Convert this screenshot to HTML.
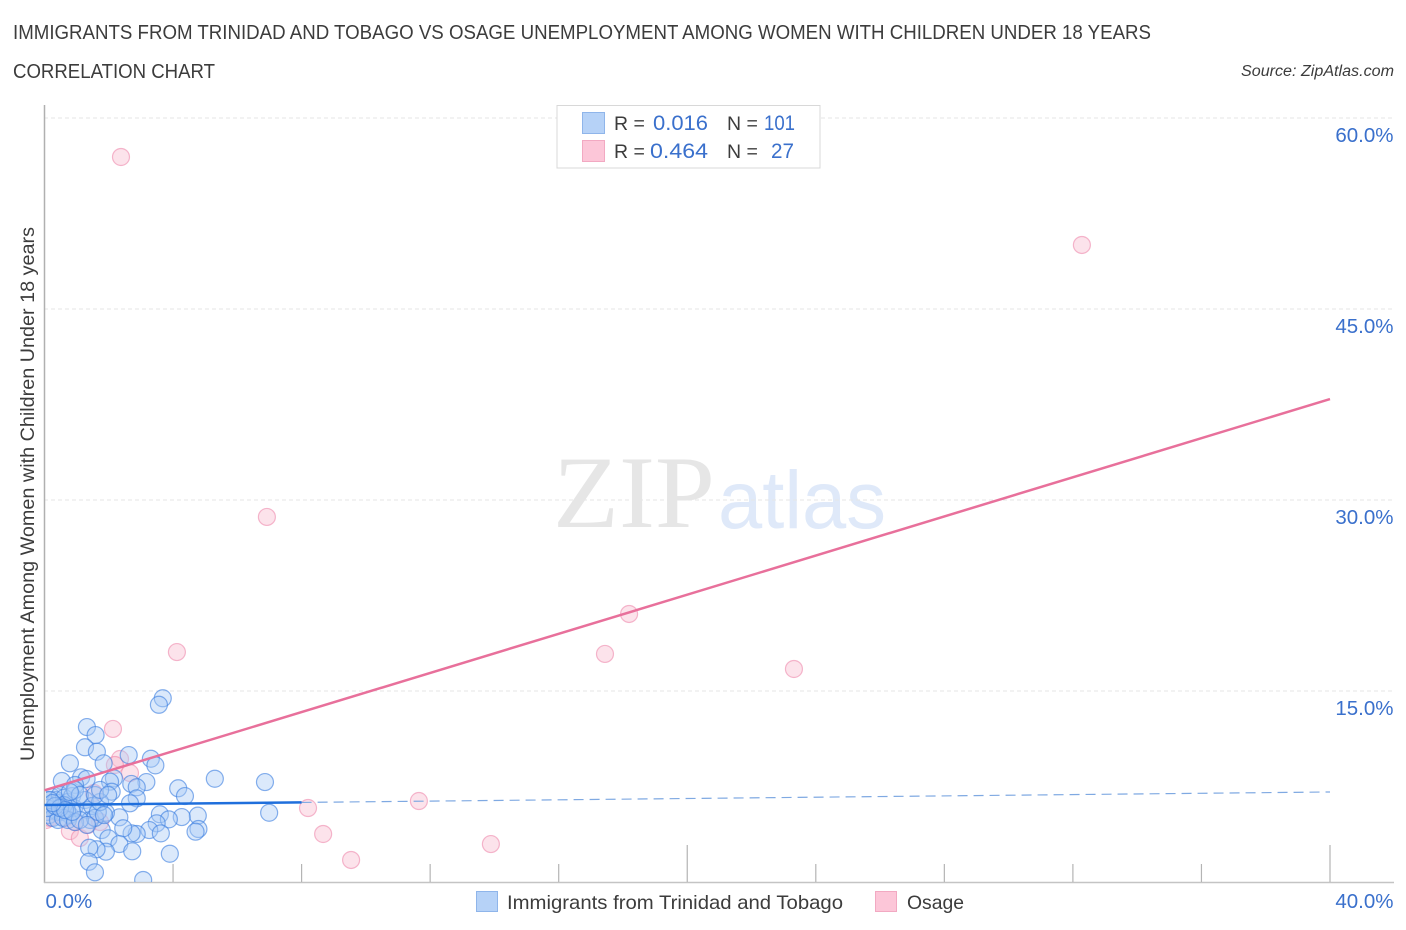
<!DOCTYPE html>
<html lang="en">
<head>
<meta charset="utf-8">
<title>Immigrants from Trinidad and Tobago vs Osage Correlation Chart</title>
<style>
html,body{margin:0;padding:0;background:#fff;width:1406px;height:930px;overflow:hidden}
svg{display:block;font-family:"Liberation Sans",sans-serif}
</style>
</head>
<body>
<svg id="chart" width="1406" height="930" viewBox="0 0 1406 930">
  <defs>
    <clipPath id="plot-clip"><rect x="46" y="100" width="1348" height="782"/></clipPath>
  </defs>
  <text x="13" y="39" font-size="20" fill="#3c3c3c" textLength="1138" lengthAdjust="spacingAndGlyphs">IMMIGRANTS FROM TRINIDAD AND TOBAGO VS OSAGE UNEMPLOYMENT AMONG WOMEN WITH CHILDREN UNDER 18 YEARS</text>
  <text x="13" y="78" font-size="20" fill="#3c3c3c" textLength="202" lengthAdjust="spacingAndGlyphs">CORRELATION CHART</text>
  <text x="1241" y="76" font-size="15.5" font-style="italic" fill="#3c3c3c" textLength="153" lengthAdjust="spacingAndGlyphs">Source: ZipAtlas.com</text>

  <text x="553" y="527" font-family="'Liberation Serif',serif" font-size="103" fill="#e6e6e6" textLength="162" lengthAdjust="spacingAndGlyphs">ZIP</text>
  <text x="718" y="528" font-size="82" fill="#dfe9f9" textLength="168" lengthAdjust="spacingAndGlyphs">atlas</text>

  <g id="grid"></g>
  <g id="axes"></g>
  <g id="points" clip-path="url(#plot-clip)"></g>
  <g id="trends"></g>
  <g id="labels"></g>

  <text transform="translate(34 761) rotate(-90)" font-size="19.5" fill="#3c3c3c" textLength="534" lengthAdjust="spacingAndGlyphs">Unemployment Among Women with Children Under 18 years</text>

  <g>
    <rect x="557" y="105.500" width="263" height="62.500" fill="#fff" stroke="#d8d8d8"/>
    <rect x="582.500" y="112.500" width="22" height="21" fill="#b6d2f7" stroke="#8fb5ea"/>
    <rect x="582.500" y="140.500" width="22" height="21" fill="#fcc6d8" stroke="#f2a9c2"/>
    <text x="614" y="130" font-size="19.500" fill="#3c3c3c">R =</text>
    <text x="653" y="130" font-size="21" fill="#3a70cc" textLength="55" lengthAdjust="spacingAndGlyphs">0.016</text>
    <text x="727" y="130" font-size="19.500" fill="#3c3c3c">N =</text>
    <text x="764" y="130" font-size="21" fill="#3a70cc" textLength="31" lengthAdjust="spacingAndGlyphs">101</text>
    <text x="614" y="158" font-size="19.500" fill="#3c3c3c">R =</text>
    <text x="650" y="158" font-size="21" fill="#3a70cc" textLength="58" lengthAdjust="spacingAndGlyphs">0.464</text>
    <text x="727" y="158" font-size="19.500" fill="#3c3c3c">N =</text>
    <text x="771" y="158" font-size="21" fill="#3a70cc" textLength="23" lengthAdjust="spacingAndGlyphs">27</text>
  </g>

  <g>
    <rect x="476.500" y="891.500" width="21" height="20" fill="#b6d2f7" stroke="#8fb5ea"/>
    <text x="507" y="909" font-size="19.500" fill="#3c3c3c" textLength="336" lengthAdjust="spacingAndGlyphs">Immigrants from Trinidad and Tobago</text>
    <rect x="875.500" y="891.500" width="21" height="20" fill="#fcc6d8" stroke="#f2a9c2"/>
    <text x="907" y="909" font-size="19.500" fill="#3c3c3c" textLength="57" lengthAdjust="spacingAndGlyphs">Osage</text>
  </g>
</svg>
<script>
const blueX = [3.68,3.56,1.32,1.59,1.26,1.63,2.62,3.31,3.45,1.84,0.79,5.30,6.86,0.54,1.14,1.31,2.16,2.04,3.17,2.70,2.87,4.16,4.37,0.95,2.09,2.87,2.66,6.99,3.59,4.77,4.27,3.87,3.49,3.26,3.62,4.79,4.70,2.87,2.71,2.33,2.45,1.91,1.78,1.99,2.33,2.73,3.90,1.91,1.62,1.39,1.38,1.57,3.07,0.11,0.17,0.23,0.30,0.36,0.42,0.48,0.54,0.61,0.67,0.73,0.79,0.86,0.92,0.50,0.40,0.60,0.70,1.26,1.35,1.42,1.48,1.57,1.66,1.73,0.08,0.14,0.26,0.42,0.58,0.73,0.95,1.10,1.32,0.08,0.17,0.33,0.48,0.64,0.86,0.95,1.10,0.79,1.57,1.73,1.85,1.98,0.25];
const blueY = [14.43,13.92,12.17,11.54,10.58,10.23,9.97,9.68,9.16,9.32,9.32,8.11,7.85,7.93,8.22,8.09,8.14,7.88,7.85,7.70,7.44,7.36,6.75,7.62,7.09,6.57,6.18,5.44,5.32,5.21,5.10,4.92,4.61,4.08,3.82,4.16,3.95,3.77,3.82,5.08,4.22,5.44,4.08,3.43,2.98,2.41,2.22,2.38,2.57,2.69,1.59,0.76,0.16,6.44,6.05,6.68,5.65,6.44,6.20,6.83,5.50,6.60,5.97,6.28,5.26,6.75,5.81,5.90,5.50,6.05,5.60,6.44,5.65,4.87,5.97,5.03,5.50,6.28,5.50,5.26,5.03,4.87,5.03,4.87,4.71,4.87,4.48,5.81,6.44,5.97,5.81,5.65,5.50,7.23,6.83,7.07,6.83,7.23,5.26,6.83,6.20];
const pinkX = [2.38,32.28,6.92,18.19,4.12,17.44,23.32,2.13,2.35,2.19,2.66,1.54,8.20,11.65,8.67,9.54,13.89,0.79,1.10,1.35,0.05,0.17,0.36,0.54,0.64,0.95,1.73];
const pinkY = [56.94,50.03,28.67,21.05,18.06,17.91,16.73,12.02,9.66,9.19,8.56,6.99,5.81,6.36,3.77,1.73,2.98,4.00,3.46,4.48,4.87,5.03,5.50,5.97,5.03,4.71,4.71];
const blueTrendSolidX = [0, 8];
const blueTrendSolidY = [6.05, 6.25];
const blueTrendDashX = [8, 40];
const blueTrendDashY = [6.25, 7.07];
const pinkTrendX = [0, 40];
const pinkTrendY = [7.2, 37.93];
const yTicks = [15, 30, 45, 60];
const yTickLabels = ["15.0%", "30.0%", "45.0%", "60.0%"];
const xTicks = [4, 8, 12, 16, 20, 24, 28, 32, 36, 40];
const xMajorTicks = [20, 40];
const xEndTicks = [0, 40];
const xEndLabels = ["0.0%", "40.0%"];

const NS = "http://www.w3.org/2000/svg";
function sx(v) { return 44.5 + v * 32.1375; }
function sy(v) { return 882 - v * 12.733; }
function make(tag, attrs, parent) {
  const el = document.createElementNS(NS, tag);
  for (const k in attrs) el.setAttribute(k, attrs[k]);
  parent.appendChild(el);
  return el;
}
const gridG = document.getElementById("grid");
const axesG = document.getElementById("axes");
const pointsG = document.getElementById("points");
const trendsG = document.getElementById("trends");
const labelsG = document.getElementById("labels");

yTicks.forEach(function (t, i) {
  const line = make("line", {x1: 44, x2: 1393, y1: sy(t), y2: sy(t), stroke: "#e6e6e6", "stroke-width": 1, "stroke-dasharray": "4 3"}, gridG);
  
  
  const label = make("text", {x: 1393.5, y: sy(t) + 24, "text-anchor": "end", "font-size": 20.5, fill: "#3a70cc"}, labelsG);
  label.textContent = yTickLabels[i];
  
  
});

const yAxis = make("line", {x1: 44.5, x2: 44.5, y1: 105, y2: 883, stroke: "#b0b0b0", "stroke-width": 1.5}, axesG);


const xAxis = make("line", {x1: 44, x2: 1394, y1: 882.5, y2: 882.5, stroke: "#c4c4c4", "stroke-width": 1.5}, axesG);



xTicks.forEach(function (t) {
  const top = xMajorTicks.indexOf(t) >= 0 ? 845 : 864;
  const tick = make("line", {x1: sx(t), x2: sx(t), y1: top, y2: 882, stroke: "#b4b4b4", "stroke-width": 1.2}, axesG);
  
  
});

xEndTicks.forEach(function (t, i) {
  const label = make("text", {
    x: i === 0 ? sx(t) + 1 : 1393.5,
    y: 908,
    "text-anchor": i === 0 ? "start" : "end",
    "font-size": 20.5,
    fill: "#3a70cc"
  }, labelsG);
  label.textContent = xEndLabels[i];
  
  
});

pinkX.forEach(function (x, i) {
  const c = make("circle", {cx: sx(x), cy: sy(pinkY[i]), r: 8.5, fill: "#f8bdd0", "fill-opacity": 0.42, stroke: "#ec7fa5", "stroke-opacity": 0.55, "stroke-width": 1.2}, pointsG);
  
  
});
blueX.forEach(function (x, i) {
  const c = make("circle", {cx: sx(x), cy: sy(blueY[i]), r: 8.5, fill: "#a9caf5", "fill-opacity": 0.42, stroke: "#3d80e0", "stroke-opacity": 0.62, "stroke-width": 1.2}, pointsG);
  
  
});

const dash = make("line", {x1: sx(blueTrendDashX[0]), y1: sy(blueTrendDashY[0]), x2: sx(blueTrendDashX[1]), y2: sy(blueTrendDashY[1]), stroke: "#7fa9e2", "stroke-width": 1.2, "stroke-dasharray": "10 6"}, trendsG);


const solid = make("line", {x1: sx(blueTrendSolidX[0]), y1: sy(blueTrendSolidY[0]), x2: sx(blueTrendSolidX[1]), y2: sy(blueTrendSolidY[1]), stroke: "#1f6fdc", "stroke-width": 2.5}, trendsG);


const pinkLine = make("line", {x1: sx(pinkTrendX[0]), y1: sy(pinkTrendY[0]), x2: sx(pinkTrendX[1]), y2: sy(pinkTrendY[1]), stroke: "#e8709b", "stroke-width": 2.5}, trendsG);


</script>
</body>
</html>
